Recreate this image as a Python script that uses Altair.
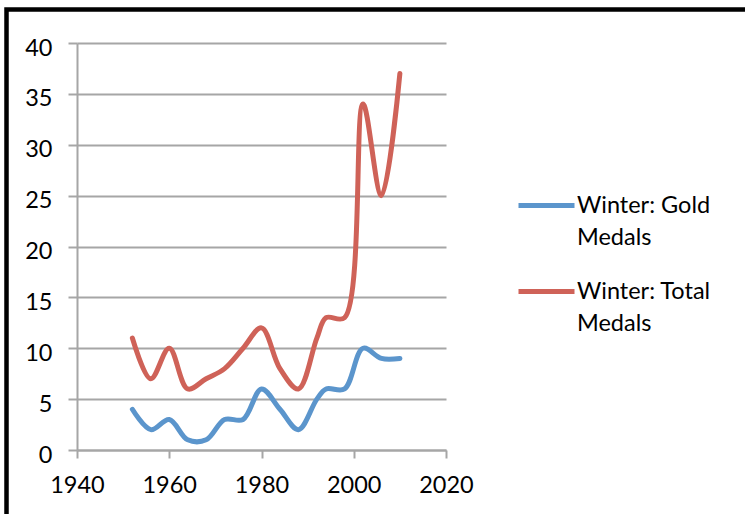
import altair as alt
import pandas as pd

years = [1952, 1956, 1960, 1964, 1968, 1972, 1976, 1980, 1984, 1988, 1992, 1994, 1998, 2002, 2006, 2010]
gold = [4, 2, 3, 1, 1, 3, 3, 6, 4, 2, 5, 6, 6, 10, 9, 9]
total = [11, 7, 10, 6, 7, 8, 10, 12, 8, 6, 11, 13, 13, 34, 25, 37]
series = ["Winter: Gold Medals", "Winter: Total Medals"]
colors = ["#5B95CC", "#CF6258"]
x_ticks = [1940, 1960, 1980, 2000, 2020]
y_ticks = [0, 5, 10, 15, 20, 25, 30, 35, 40]

rows = []
for y, g, t in zip(years, gold, total):
    rows.append({"year": y, "series": series[0], "value": g})
    rows.append({"year": y, "series": series[1], "value": t})
df = pd.DataFrame(rows)

FONT = "Lato"
FS = 23.5
GRID = "#A6A6A6"

lines = alt.Chart(df).mark_line(
    interpolate="catmull-rom", strokeWidth=5, strokeCap="round", strokeJoin="round"
).encode(
    x=alt.X("year:Q",
            scale=alt.Scale(domain=[1940, 2020], nice=False, zero=False),
            axis=alt.Axis(values=x_ticks, format="d", title=None, grid=False,
                          tickSize=8, tickColor=GRID, tickWidth=2,
                          domainColor=GRID, domainWidth=2, labelFlush=False,
                          labelFont=FONT, labelFontSize=FS, labelColor="black",
                          labelPadding=15)),
    y=alt.Y("value:Q",
            scale=alt.Scale(domain=[0, 40], nice=False),
            axis=alt.Axis(values=y_ticks, title=None, grid=True,
                          gridColor=GRID, gridWidth=2,
                          tickSize=9, tickColor=GRID, tickWidth=2,
                          domainColor=GRID, domainWidth=2, labelFlush=False,
                          labelFont=FONT, labelFontSize=FS, labelColor="black",
                          labelPadding=16, labelOffset=5)),
    color=alt.Color("series:N",
                    scale=alt.Scale(domain=series, range=colors),
                    legend=alt.Legend(orient="none", legendX=439, legendY=132,
                                      title=None, padding=0,
                                      symbolType="stroke", symbolSize=3136,
                                      symbolStrokeWidth=5,
                                      labelFont=FONT, labelFontSize=FS,
                                      labelColor="black", labelOffset=0,
                                      labelLimit=300, rowPadding=12,
                                      labelExpr="split(replace(datum.label, ' Medals', '|Medals'), '|')")),
)

border = alt.Chart(pd.DataFrame({"k": [0]})).mark_rect(
    fillOpacity=0, stroke="black", strokeWidth=4.5
).encode(
    x=alt.value(-70.5), x2=alt.value(1200),
    y=alt.value(-33.5), y2=alt.value(1200),
)

chart = alt.layer(border, lines).properties(
    width=369, height=407,
    padding={"left": 77, "top": 43, "right": 299, "bottom": 64},
    autosize=alt.AutoSizeParams(type="none"),
    background="white",
).configure(
    style={"guide-label": {"lineHeight": 32}}
).configure_view(stroke=None)

chart.save("out.html", embed_options={"renderer": "svg", "actions": False})
